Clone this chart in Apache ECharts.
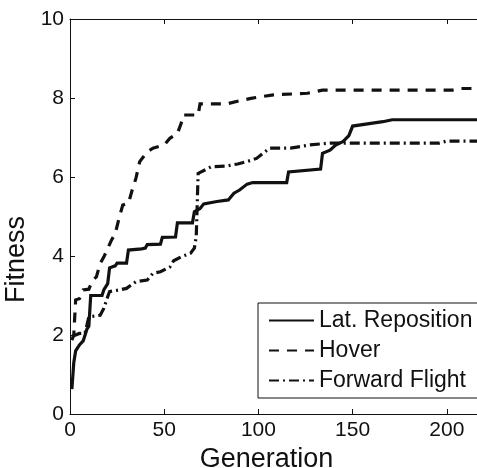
<!DOCTYPE html>
<html>
<head>
<meta charset="utf-8">
<script src="https://cdn.jsdelivr.net/npm/echarts@6/dist/echarts.min.js"></script>
<style>
  html, body { margin: 0; padding: 0; background: #fff; }
  #chart { width: 477px; height: 468px; }
</style>
</head>
<body>
<div id="chart"></div>
<script>
// Best fitness per generation for three flight tasks
const latGen = [1, 2, 3, 5, 7, 8, 9, 10, 11, 17, 18, 20, 21, 24, 25, 30, 31, 38, 40, 41, 48, 49, 56, 57, 65, 66, 69, 71, 78, 84, 87, 90, 94, 97, 115, 116, 133, 134, 138, 141, 145, 148, 150, 157, 166, 171, 216];
const latFit = [0.63, 1.3, 1.6, 1.75, 1.85, 2.0, 2.15, 2.22, 3.0, 3.0, 3.15, 3.3, 3.7, 3.75, 3.82, 3.82, 4.15, 4.18, 4.2, 4.29, 4.3, 4.47, 4.48, 4.84, 4.84, 5.12, 5.2, 5.32, 5.38, 5.42, 5.59, 5.67, 5.82, 5.86, 5.86, 6.13, 6.2, 6.6, 6.68, 6.81, 6.9, 7.05, 7.29, 7.34, 7.4, 7.45, 7.45];

const hoverGen = [1, 2, 3, 5, 6, 7, 10, 12, 14, 16, 18, 20, 22, 24, 26, 28, 31, 33, 35, 37, 41, 44, 50, 53, 57, 59, 60, 68, 69, 83, 90, 96, 101, 108, 126, 134, 203, 207, 216];
const hoverFit = [1.87, 2.0, 2.89, 2.92, 3.0, 3.14, 3.16, 3.39, 3.47, 3.81, 3.98, 4.19, 4.4, 4.57, 4.95, 5.29, 5.33, 5.67, 5.97, 6.39, 6.64, 6.73, 6.81, 6.98, 7.1, 7.36, 7.57, 7.57, 7.85, 7.85, 7.93, 7.99, 8.03, 8.08, 8.12, 8.2, 8.2, 8.24, 8.24];

const fwdGen = [1, 5, 8, 10, 16, 18, 20, 21, 26, 30, 35, 41, 44, 48, 53, 55, 59, 64, 66, 67, 68, 69, 75, 83, 89, 94, 99, 106, 117, 127, 138, 196, 200, 216];
const fwdFit = [1.96, 2.04, 2.05, 2.46, 2.5, 2.68, 2.97, 3.1, 3.14, 3.18, 3.35, 3.39, 3.56, 3.6, 3.72, 3.88, 3.98, 4.07, 4.2, 4.49, 6.09, 6.13, 6.26, 6.28, 6.33, 6.39, 6.47, 6.73, 6.73, 6.81, 6.86, 6.86, 6.91, 6.91];

const seriesNames = ['Lat. Reposition', 'Hover', 'Forward Flight'];
const xTicks = [0, 50, 100, 150, 200];

const zip = (xs, ys) => xs.map((x, i) => [x, ys[i]]);

const FONT = '"Liberation Sans", Arial, Helvetica, sans-serif';
const INK = '#111';

const chart = echarts.init(document.getElementById('chart'), null, { renderer: 'canvas' });

const lineSeries = (name, data, dash) => ({
  name: name,
  type: 'line',
  data: data,
  symbol: 'none',
  showSymbol: false,
  animation: false,
  lineStyle: { color: INK, width: 3.2, type: dash, cap: 'butt', join: 'miter' },
  itemStyle: { color: INK }
});

chart.setOption({
  backgroundColor: '#fff',
  animation: false,
  grid: { left: 70, top: 19, right: 0, bottom: 54, containLabel: false, outerBoundsMode: 'none' },
  xAxis: [{
    type: 'value',
    min: 0, max: 216, interval: 50,
    position: 'bottom',
    name: 'Generation',
    nameLocation: 'middle',
    nameGap: 26,
    nameTextStyle: { fontFamily: FONT, fontSize: 27, color: INK, padding: [0, 14, 0, 0] },
    axisLine: { show: true, onZero: false, lineStyle: { color: INK, width: 1 } },
    axisTick: { show: true, inside: true, length: 5, lineStyle: { color: INK }, customValues: xTicks },
    axisLabel: { fontFamily: FONT, fontSize: 21, color: INK, margin: 6, customValues: xTicks },
    splitLine: { show: false }
  }, {
    type: 'value',
    min: 0, max: 216, interval: 50,
    position: 'top',
    axisLine: { show: true, onZero: false, lineStyle: { color: INK, width: 1 } },
    axisTick: { show: true, inside: true, length: 5, lineStyle: { color: INK }, customValues: xTicks },
    axisLabel: { show: false },
    splitLine: { show: false }
  }],
  yAxis: {
    type: 'value',
    min: 0, max: 10, interval: 2,
    name: 'Fitness',
    nameLocation: 'middle',
    nameGap: 36,
    nameRotate: 90,
    nameTextStyle: { fontFamily: FONT, fontSize: 27, color: INK, padding: [0, 86, 0, 0] },
    axisLine: { show: true, onZero: false, lineStyle: { color: INK, width: 1 } },
    axisTick: { show: true, inside: true, length: 5, lineStyle: { color: INK } },
    axisLabel: { fontFamily: FONT, fontSize: 21, color: INK, margin: 6 },
    splitLine: { show: false }
  },
  legend: {
    orient: 'vertical',
    left: 258,
    top: 303,
    data: seriesNames,
    itemWidth: 45,
    itemHeight: 22,
    itemGap: 7,
    padding: [6, 40, 6, 10],
    borderColor: INK,
    borderWidth: 1,
    borderRadius: 0,
    backgroundColor: '#fff',
    selectedMode: false,
    itemStyle: { opacity: 0, borderWidth: 0 },
    lineStyle: { width: 2 },
    textStyle: { fontFamily: FONT, fontSize: 23, color: INK }
  },
  series: [
    lineSeries(seriesNames[0], zip(latGen, latFit), 'solid'),
    lineSeries(seriesNames[1], zip(hoverGen, hoverFit), [10, 8]),
    lineSeries(seriesNames[2], zip(fwdGen, fwdFit), [10, 4, 2, 4])
  ]
});
</script>
</body>
</html>
